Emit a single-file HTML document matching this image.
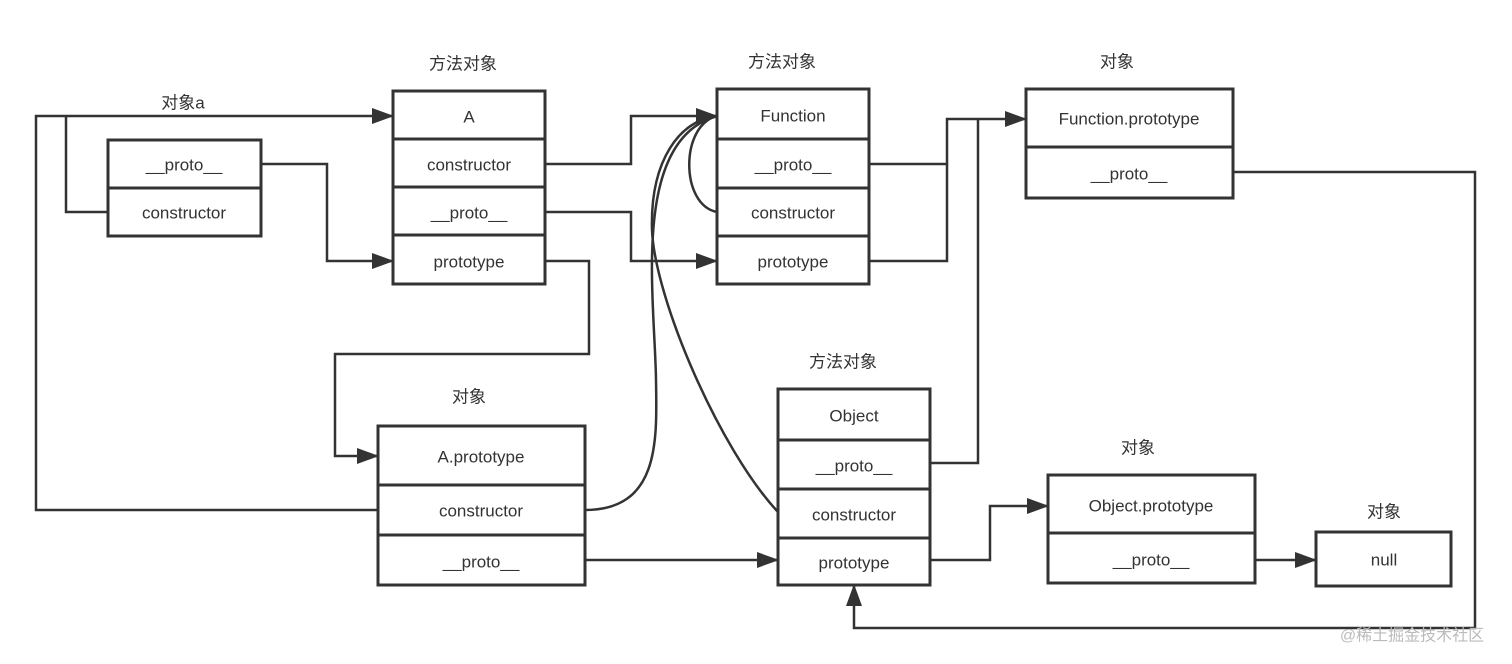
<!DOCTYPE html>
<html><head><meta charset="utf-8"><style>
body{margin:0;background:#fff}
svg{display:block}
text{font-family:"Liberation Sans","Noto Sans CJK SC",sans-serif;font-size:17px;fill:#333;text-anchor:middle;dominant-baseline:central}
.b{fill:#fff;stroke:#333;stroke-width:3}
.l{fill:none;stroke:#333;stroke-width:2.5}
</style></head><body>
<svg width="1512" height="664" viewBox="0 0 1512 664">
<defs><marker id="ar" markerWidth="10" markerHeight="10" refX="9" refY="5" orient="auto" markerUnits="userSpaceOnUse" viewBox="0 0 10 10"><path d="M0,0 L10,5 L0,10z" fill="#333"/></marker>
<marker id="ar2" markerWidth="22" markerHeight="16" refX="21" refY="8" orient="auto" markerUnits="userSpaceOnUse" viewBox="0 0 22 16"><path d="M0,0 L22,8 L0,16z" fill="#333"/></marker></defs>

<!-- connectors -->
<g class="l">
<path d="M378,510 H36 V116 H393" marker-end="url(#ar2)"/>
<path d="M108,212 H66 V116"/>
<path d="M261,164 H327 V261 H393" marker-end="url(#ar2)"/>
<path d="M545,164 H631 V116 H717" marker-end="url(#ar2)"/>
<path d="M545,212 H631 V261 H717" marker-end="url(#ar2)"/>
<path d="M545,261 H589 V354 H335 V456 H378" marker-end="url(#ar2)"/>
<path d="M869,164 H947 V119 H1026" marker-end="url(#ar2)"/>
<path d="M869,261 H947 V164"/>
<path d="M930,463 H978 V119"/>
<path d="M1233,172 H1475 V628 H854 V585" marker-end="url(#ar2)"/>
<path d="M585,560 H778" marker-end="url(#ar2)"/>
<path d="M930,560 H990 V506 H1048" marker-end="url(#ar2)"/>
<path d="M1255,560 H1316" marker-end="url(#ar2)"/>
<path d="M717,212 C680,205 680,125 717,116"/>
<path d="M585,510 C660,510 657,440 656,380 C655,300 630,140 717,116"/>
<path d="M778,512 C720,450 655,300 652,230 C650,160 680,120 717,116"/>
</g>

<!-- boxes -->
<g class="b">
<rect x="108" y="140" width="153" height="96"/><line x1="108" y1="188" x2="261" y2="188"/>
<rect x="393" y="91" width="152" height="193"/><line x1="393" y1="139" x2="545" y2="139"/><line x1="393" y1="187" x2="545" y2="187"/><line x1="393" y1="235" x2="545" y2="235"/>
<rect x="717" y="89" width="152" height="195"/><line x1="717" y1="139" x2="869" y2="139"/><line x1="717" y1="188" x2="869" y2="188"/><line x1="717" y1="236" x2="869" y2="236"/>
<rect x="1026" y="89" width="207" height="109"/><line x1="1026" y1="147" x2="1233" y2="147"/>
<rect x="378" y="426" width="207" height="159"/><line x1="378" y1="485" x2="585" y2="485"/><line x1="378" y1="535" x2="585" y2="535"/>
<rect x="778" y="389" width="152" height="196"/><line x1="778" y1="440" x2="930" y2="440"/><line x1="778" y1="489" x2="930" y2="489"/><line x1="778" y1="538" x2="930" y2="538"/>
<rect x="1048" y="475" width="207" height="108"/><line x1="1048" y1="533" x2="1255" y2="533"/>
<rect x="1316" y="532" width="135" height="54"/>
</g>

<!-- box text -->
<text x="184" y="165">__proto__</text><text x="184" y="213">constructor</text>
<text x="469" y="117">A</text><text x="469" y="165">constructor</text><text x="469" y="213">__proto__</text><text x="469" y="262">prototype</text>
<text x="793" y="116">Function</text><text x="793" y="165">__proto__</text><text x="793" y="213">constructor</text><text x="793" y="262">prototype</text>
<text x="1129" y="119">Function.prototype</text><text x="1129" y="174">__proto__</text>
<text x="481" y="457">A.prototype</text><text x="481" y="511">constructor</text><text x="481" y="562">__proto__</text>
<text x="854" y="416">Object</text><text x="854" y="466">__proto__</text><text x="854" y="515">constructor</text><text x="854" y="563">prototype</text>
<text x="1151" y="506">Object.prototype</text><text x="1151" y="560">__proto__</text>
<text x="1384" y="560">null</text>

<!-- labels -->
<text x="463" y="64">方法对象</text><text x="782" y="62">方法对象</text><text x="1117" y="62">对象</text>
<text x="183" y="103">对象a</text><text x="469" y="397">对象</text><text x="843" y="362">方法对象</text>
<text x="1138" y="448">对象</text><text x="1384" y="512">对象</text>
<text x="1412" y="636" style="fill:#bbb;font-size:16px">@稀土掘金技术社区</text>
</svg>
</body></html>
